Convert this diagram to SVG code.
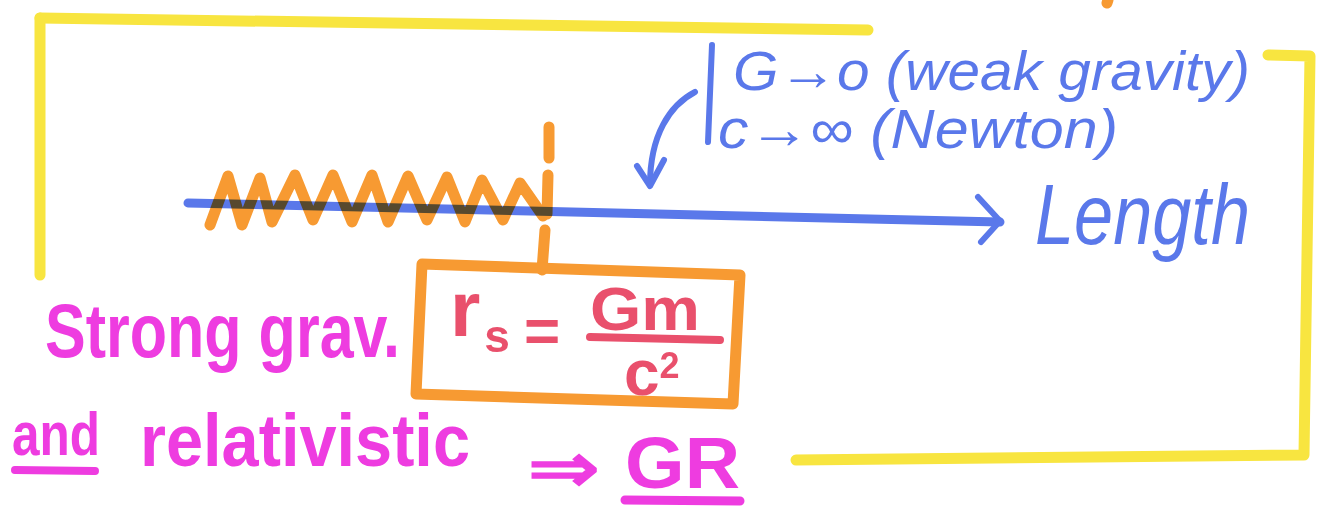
<svg xmlns="http://www.w3.org/2000/svg" width="1330" height="508" viewBox="0 0 1330 508">
<style>
.mk{fill:none;stroke-linecap:round;stroke-linejoin:round}
.y{stroke:#f8e540;stroke-width:11}
.o{stroke:#f79a32;stroke-width:11}
.b{stroke:#5a78ea;stroke-width:6}
.ax{stroke:#5a78ea;stroke-width:9;mix-blend-mode:multiply}
.t{font-family:"Liberation Sans",Arial,sans-serif}
.tb{fill:#5a78ea;font-style:italic}
.tm{fill:#ee3ce0;font-weight:bold}
.tr{fill:#e9506c;font-weight:bold}
</style>
<rect width="1330" height="508" fill="#ffffff"/>
<g id="frame">
<path class="mk y" d="M40,18 L868,30"/>
<path class="mk y" d="M40,18 L40,275"/>
<path class="mk y" d="M1268,55 L1310,56 L1304,455 L796,460"/>
</g>
<g id="dot"><path class="mk o" d="M1108,0 L1107,3" stroke-width="8"/></g>
<g id="spring">
<path class="mk o" d="M210,225 L228,176 L242,225 L260,178 L272,222 L295,175 L313,220 L333,175 L352,222 L372,175 L388,222 L408,176 L427,220 L447,177 L465,222 L482,180 L503,220 L520,183 L543,216"/>
<path class="mk o" d="M549,127 L549,158"/>
<path class="mk o" d="M548,175 L547,214"/>
<path class="mk o" d="M545,230 L542,270"/>
</g>
<g id="connectors">
<path class="mk ax" d="M188,203 L1000,222"/>
<path class="mk b" stroke-width="8" d="M978,197 L1000,221 L981,242"/>
<path class="mk b" stroke-width="6" d="M695,92 C670,105 650,135 650,185"/>
<path class="mk b" stroke-width="6" d="M637,166 L650,186 L664,160"/>
<path class="mk b" stroke-width="5" d="M712,45 L708,142"/>
</g>
<g id="length"><text class="t tb" x="1035" y="244" font-size="86" textLength="215" lengthAdjust="spacingAndGlyphs">Length</text></g>
<g id="limits">
<text class="t tb" x="733" y="90" font-size="56" textLength="517" lengthAdjust="spacingAndGlyphs">G→o (weak gravity)</text>
<text class="t tb" x="718" y="148" font-size="56" textLength="400" lengthAdjust="spacingAndGlyphs">c→∞ (Newton)</text>
</g>
<g id="formula-box">
<path class="mk o" d="M422,264 L740,275 L733,404 L416,394 Z"/>
<text class="t tr" x="450" y="336" font-size="78">r<tspan dx="4" dy="16" font-size="46">s</tspan></text>
<text class="t tr" x="542" y="352" font-size="62" text-anchor="middle">=</text>
<text class="t tr" x="590" y="330" font-size="62" textLength="110" lengthAdjust="spacingAndGlyphs">Gm</text>
<path class="mk" stroke="#e9506c" stroke-width="8" d="M590,337 L720,340"/>
<text class="t tr" x="624" y="395" font-size="64">c<tspan dy="-17" font-size="36">2</tspan></text>
</g>
<g id="conclusion">
<text class="t tm" x="45" y="357" font-size="76" textLength="355" lengthAdjust="spacingAndGlyphs">Strong grav.</text>
<text class="t tm" x="12" y="455" font-size="62" textLength="88" lengthAdjust="spacingAndGlyphs">and</text>
<path class="mk" stroke="#ee3ce0" stroke-width="8" d="M15,470 L95,471"/>
<text class="t tm" x="140" y="466" font-size="74" textLength="330" lengthAdjust="spacingAndGlyphs">relativistic</text>
<text class="t tm" x="528" y="492" font-size="70" textLength="72" lengthAdjust="spacingAndGlyphs">⇒</text>
<text class="t tm" x="625" y="488" font-size="72" textLength="115" lengthAdjust="spacingAndGlyphs">GR</text>
<path class="mk" stroke="#ee3ce0" stroke-width="9" d="M625,500 L740,501"/>
</g>
</svg>
